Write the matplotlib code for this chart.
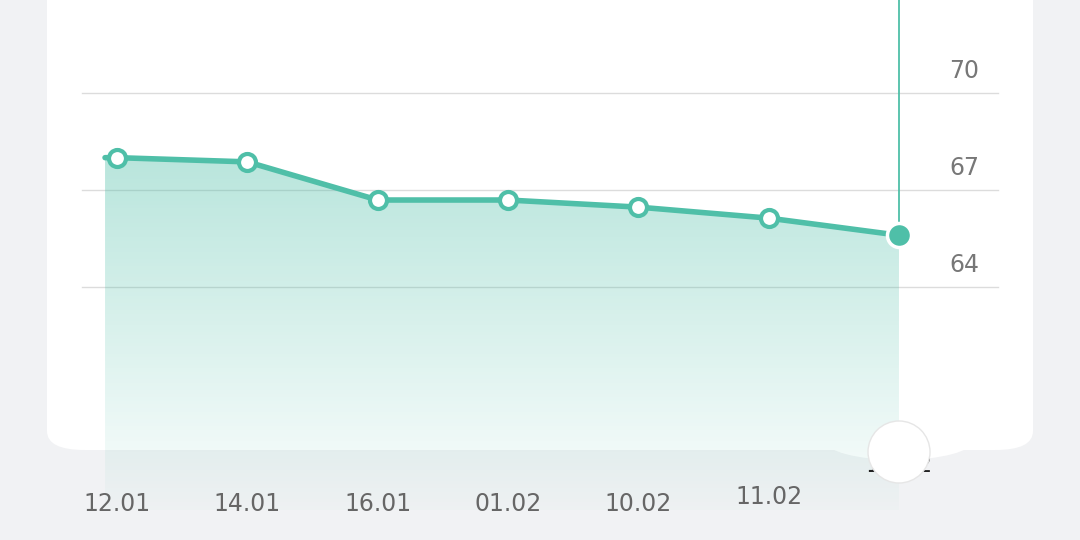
import matplotlib.pyplot as plt
import numpy as np
from matplotlib.patches import FancyBboxPatch, Polygon, Ellipse
from matplotlib.colors import LinearSegmentedColormap

dates = ["12.01", "14.01", "16.01", "01.02", "10.02", "11.02", "12.02"]
values = [68.0, 67.87, 66.69, 66.69, 66.47, 66.13, 65.6]
yticks = [64, 67, 70]

teal = "#4fbfa8"
bg = "#f1f2f4"

fig = plt.figure(figsize=(10.8, 5.4), dpi=100)
fig.patch.set_facecolor(bg)

# card
card = FancyBboxPatch((47 / 1080, 90 / 540), 986 / 1080, 500 / 540,
                      boxstyle="round,pad=0,rounding_size=0.035",
                      transform=fig.transFigure, facecolor="white", edgecolor="none", zorder=-2)
fig.patches.append(card)
# bump under the selected point
fig.patches.append(Ellipse((899 / 1080, 1 - 440 / 540), 150 / 1080, 40 / 540,
                           transform=fig.transFigure, facecolor="white", edgecolor="none", zorder=-2))

ax = fig.add_axes([0, 0, 1, 1])
ax.axis("off")
ax.patch.set_alpha(0)

x = np.arange(len(values))
xl = np.concatenate([[-0.092], x])
yl = np.concatenate([[values[0]], values])

# grid lines and right labels
for t in yticks:
    ax.plot([-0.27, 6.76], [t, t], color="#dcdcdc", lw=1, zorder=1)
    ax.text(6.5, t + 0.3, str(t), fontsize=17, color="#777777", ha="center", va="bottom")

# gradient fill
bottom = 57.1
grad = np.linspace(0, 1, 256).reshape(-1, 1)
cmap = LinearSegmentedColormap.from_list("g", [(0.31, 0.75, 0.66, 0.4), (0.31, 0.75, 0.66, 0.02)])
im = ax.imshow(grad, cmap=cmap, aspect="auto", extent=[-0.092, 6, bottom, max(values)],
               origin="upper", zorder=2)
poly = Polygon(np.column_stack([np.concatenate([xl, [6, -0.092]]),
                                np.concatenate([yl, [bottom, bottom]])]),
               closed=True, transform=ax.transData)
im.set_clip_path(poly)

# vertical marker line
ax.plot([6, 6], [values[-1], 73], color=teal, lw=1.3, zorder=3)

ax.plot(xl, yl, color=teal, lw=4, zorder=4, solid_capstyle="round")
ax.scatter(x[:-1], values[:-1], s=150, facecolor="white", edgecolor=teal, linewidth=3, zorder=5)
ax.scatter([6], [values[-1]], s=300, facecolor=teal, edgecolor="white", linewidth=2.5, zorder=5)

# x labels
for i, d in enumerate(dates[:-1]):
    yy = 57.5 if i == 5 else 57.3
    ax.text(i, yy, d, fontsize=17, color="#666666", ha="center", va="center")
ax.text(6, 58.5, dates[-1], fontsize=17, color="#222222", ha="center", va="center")

ax.set_xlim(-0.898, 7.389)
ax.set_ylim(56.175, 72.876)

# knob circle
fig.patches.append(Ellipse((899 / 1080, 1 - 452 / 540), 62 / 1080, 62 / 540,
                           transform=fig.transFigure, facecolor="white",
                           edgecolor="#e6e6e6", lw=1, zorder=5))

fig.savefig("out.png", dpi=100, facecolor=bg)
